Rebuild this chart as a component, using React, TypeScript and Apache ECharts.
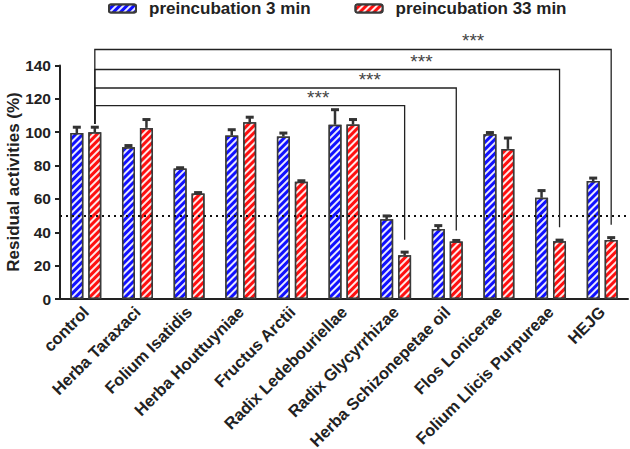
import React, { useEffect, useRef } from "react";
import * as echarts from "echarts";

const categories = [
  "control",
  "Herba Taraxaci",
  "Folium Isatidis",
  "Herba Houttuyniae",
  "Fructus Arctii",
  "Radix Ledebouriellae",
  "Radix Glycyrrhizae",
  "Herba Schizonepetae oil",
  "Flos Lonicerae",
  "Folium Llicis Purpureae",
  "HEJG",
];
const seriesNames = ["preincubation 3 min", "preincubation 33 min"];
const yAxisTitle = "Residual activities (%)";
const pre3 = [99.5, 91, 78.3, 98, 97.5, 104.5, 47.8, 42, 98.8, 60.7, 70.7];
const pre3Err = [3.5, 1, 0.4, 3.5, 2, 9, 2, 2, 1, 4.3, 1.8];
const pre33 = [100, 102.6, 63.3, 106, 70.3, 104.6, 26.3, 34.5, 90, 34.7, 35.3];
const pre33Err = [3, 5, 0.5, 3, 0.6, 3, 1.8, 0.6, 6.5, 0.6, 1.5];
const yTicks = { min: 0, max: 140, interval: 20 };
const thresholdLine = 50;
// significance brackets: control vs target
const bracketTargets = [6, 7, 9, 10];
const bracketLevels = [116, 126.5, 137.6, 149.6];
const bracketEnds = [35.5, 41, 43, 44.5];
const bracketStart = 105;
const bracketStarAt = [4.5, 5.5, 6.5, 7.5];
const bracketLabel = "***";

const FONT = "Arial, 'Liberation Sans', sans-serif";
const BAR_W = 13;
const OFF = 9;

export default function App() {
  const ref = useRef<HTMLDivElement>(null);
  useEffect(() => {
    if (!ref.current) return;
    const chart = echarts.init(ref.current, null, { renderer: "svg" });
    const decal = {
      symbol: "rect",
      symbolSize: 1,
      dashArrayX: [1, 0],
      dashArrayY: [1.4, 2.8],
      rotation: -Math.PI / 4,
      color: "rgba(255,255,255,0.9)",
    };
    const errSeries = (vals: number[], errs: number[], off: number) => ({
      type: "custom",
      silent: true,
      z: 5,
      data: vals.map((v, i) => [i, v, errs[i]]),
      renderItem: (_p: any, api: any) => {
        const i = api.value(0);
        const v = api.value(1);
        const e = api.value(2);
        const b = api.coord([i, v]);
        const t = api.coord([i, v + e]);
        const cx = b[0] + off;
        return {
          type: "group",
          children: [
            {
              type: "line",
              shape: { x1: cx, y1: b[1], x2: cx, y2: t[1] },
              style: { stroke: "#333", lineWidth: 2.5 },
            },
            {
              type: "line",
              shape: { x1: cx - 4, y1: t[1], x2: cx + 4, y2: t[1] },
              style: { stroke: "#333", lineWidth: 3 },
            },
          ],
        };
      },
    });
    const option: any = {
      animation: false,
      backgroundColor: "#fff",
      legend: {
        top: 0,
        left: 108,
        padding: 0,
        itemWidth: 27,
        itemHeight: 8,
        itemGap: 44,
        textStyle: {
          fontFamily: FONT,
          fontSize: 17,
          fontWeight: "bold",
          color: "#222",
          padding: [0, 0, 0, 8],
        },
        data: seriesNames,
      },
      graphic: [
        {
          type: "text",
          x: 13,
          y: 182,
          rotation: Math.PI / 2,
          style: {
            text: yAxisTitle,
            fontFamily: FONT,
            fontSize: 17,
            fontWeight: "bold",
            fill: "#222",
            align: "center",
            verticalAlign: "middle",
          },
        },
      ],
      grid: { left: 60, right: 2, top: 65.5, bottom: 150, outerBoundsMode: "none", containLabel: false },
      xAxis: {
        type: "category",
        data: categories,
        axisLine: { lineStyle: { color: "#222", width: 2 } },
        axisTick: { alignWithLabel: true, length: 6, lineStyle: { color: "#222", width: 2 } },
        axisLabel: {
          rotate: 45,
          margin: 10,
          interval: 0,
          fontFamily: FONT,
          fontSize: 16.5,
          fontWeight: "bold",
          color: "#222",
        },
      },
      yAxis: {
        type: "value",
        min: yTicks.min,
        max: yTicks.max,
        interval: yTicks.interval,
        axisLine: { show: true, lineStyle: { color: "#222", width: 2 } },
        axisTick: { show: true, length: 5, lineStyle: { color: "#222", width: 2 } },
        splitLine: { show: false },
        axisLabel: { margin: 9, fontFamily: FONT, fontSize: 15.5, fontWeight: "bold", color: "#222" },
      },
      series: [
        {
          name: seriesNames[0],
          type: "bar",
          barWidth: BAR_W,
          barGap: "38%",
          data: pre3,
          itemStyle: { color: "#1010ff", borderColor: "#3a3a3a", borderWidth: 1.5, decal },
          markLine: {
            silent: true,
            symbol: ["none", "none"],
            label: { show: false },
            lineStyle: { type: [2, 4], color: "#111", width: 2 },
            data: [{ yAxis: thresholdLine }],
          },
        },
        {
          name: seriesNames[1],
          type: "bar",
          barWidth: BAR_W,
          data: pre33,
          itemStyle: { color: "#ff1010", borderColor: "#3a3a3a", borderWidth: 1.5, decal },
        },
        errSeries(pre3, pre3Err, -OFF),
        errSeries(pre33, pre33Err, OFF),
        {
          type: "custom",
          silent: true,
          z: 6,
          data: bracketTargets.map((t, k) => [t, bracketLevels[k], bracketEnds[k], bracketStarAt[k]]),
          renderItem: (_p: any, api: any) => {
            const t = api.value(0);
            const lvl = api.value(1);
            const end = api.value(2);
            const star = api.value(3);
            const p0 = api.coord([0, bracketStart]);
            const p1 = api.coord([0, lvl]);
            const p2 = api.coord([t, lvl]);
            const p3 = api.coord([t, end]);
            const f = Math.floor(star);
            const a = api.coord([f, lvl]);
            const b = api.coord([f + 1, lvl]);
            const sx = a[0] + (star - f) * (b[0] - a[0]);
            return {
              type: "group",
              children: [
                {
                  type: "polyline",
                  shape: {
                    points: [
                      [p0[0] + OFF, p0[1]],
                      [p1[0] + OFF, p1[1]],
                      [p2[0] + OFF, p2[1]],
                      [p3[0] + OFF, p3[1]],
                    ],
                  },
                  style: { stroke: "#222", lineWidth: 1.3, fill: null },
                },
                {
                  type: "text",
                  x: sx,
                  y: p1[1] + 1,
                  style: {
                    text: bracketLabel,
                    fontFamily: FONT,
                    fontSize: 19,
                    fill: "#444",
                    align: "center",
                    verticalAlign: "bottom",
                  },
                },
              ],
            };
          },
        },
      ],
    };
    chart.setOption(option);
    return () => chart.dispose();
  }, []);
  return (
    <div
      ref={ref}
      style={{ position: "fixed", left: 0, top: 0, width: 630, height: 449 }}
    />
  );
}
